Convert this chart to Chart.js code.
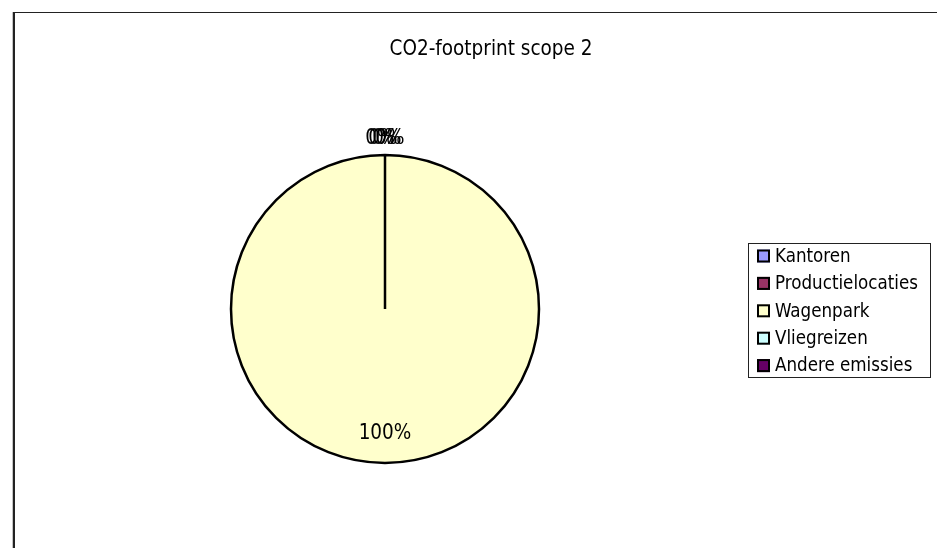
<!DOCTYPE html>
<html>
<head>
<meta charset="utf-8">
<script src="https://cdn.jsdelivr.net/npm/chart.js@4/dist/chart.umd.min.js"></script>
<style>
  html, body { margin: 0; padding: 0; background: #fff; }
  #wrap { position: relative; width: 937px; height: 548px; overflow: hidden; }
  /* chart frame: only top and left edges fall inside the window */
  #frame {
    position: absolute; left: 13px; top: 12px; width: 1000px; height: 600px;
    border-top: 1px solid #222; border-left: 2px solid #222;
    box-shadow: -1px 0 0 #c4c4c4;
  }
  canvas { position: absolute; left: 0; top: 0; }
</style>
</head>
<body>
<div id="wrap">
  <div id="frame"></div>
  <canvas id="c" width="937" height="548"></canvas>
</div>
<script>
// data
const chartTitle = 'CO2-footprint scope 2';
const categories = ['Kantoren', 'Productielocaties', 'Wagenpark', 'Vliegreizen', 'Andere emissies'];
const values = [0, 0, 100, 0, 0];
const sliceColors = ['#9999ff', '#993366', '#ffffcc', '#ccffff', '#660066'];

const FONT = '"DejaVu Sans Condensed", "DejaVu Sans", sans-serif';

// small horizontal shifts for the stacked 0% labels (Excel draws them slightly apart)
const zeroShift = [-5, -2, 2, 5];

// percentage labels on / around the slices
const pieLabels = {
  id: 'pieLabels',
  afterDatasetsDraw(chart) {
    const ctx = chart.ctx;
    const meta = chart.getDatasetMeta(0);
    const total = values.reduce((a, b) => a + b, 0);
    let z = 0;
    ctx.save();
    ctx.font = '20.5px ' + FONT;
    ctx.fillStyle = '#000';
    ctx.textAlign = 'center';
    ctx.textBaseline = 'middle';
    meta.data.forEach((arc, i) => {
      const p = arc.getProps(['x', 'y', 'startAngle', 'endAngle', 'outerRadius'], true);
      const mid = (p.startAngle + p.endAngle) / 2;
      let r, dx = 0;
      if (values[i] > 0) {
        r = p.outerRadius * 0.81;
      } else {
        r = p.outerRadius + 16;
        dx = zeroShift[z++] || 0;
      }
      const txt = Math.round(values[i] / total * 100) + '%';
      ctx.fillText(txt, p.x + Math.cos(mid) * r + dx, p.y + Math.sin(mid) * r);
    });
    ctx.restore();
  }
};

// title + boxed legend in the Excel style
const excelDecor = {
  id: 'excelDecor',
  afterDraw(chart) {
    const ctx = chart.ctx;
    ctx.save();
    ctx.fillStyle = '#000';
    ctx.font = '20.5px ' + FONT;
    ctx.textAlign = 'center';
    ctx.textBaseline = 'middle';
    ctx.fillText(chartTitle, 491, 50);

    // legend box
    const bx = 748.5, by = 243.5, bw = 182, bh = 134;
    ctx.strokeStyle = '#222';
    ctx.lineWidth = 1;
    ctx.strokeRect(bx, by, bw, bh);

    ctx.font = '18.6px ' + FONT;
    ctx.textAlign = 'left';
    categories.forEach((name, i) => {
      const cy = 256 + i * 27.4;
      ctx.fillStyle = sliceColors[i];
      ctx.fillRect(757, cy - 6.5, 13, 13);
      ctx.strokeStyle = '#000';
      ctx.lineWidth = 2;
      ctx.strokeRect(758, cy - 5.5, 11, 11);
      ctx.fillStyle = '#000';
      ctx.fillText(name, 775, cy + 1);
    });
    ctx.restore();
  }
};

const ctx = document.getElementById('c').getContext('2d');
new Chart(ctx, {
  type: 'pie',
  data: {
    labels: categories,
    datasets: [{
      data: values,
      backgroundColor: sliceColors,
      borderColor: '#000',
      borderWidth: 2.5,
      clip: false,
    }],
  },
  options: {
    responsive: false,
    animation: false,
    radius: 154,
    layout: { padding: { left: 231, right: 398, top: 155, bottom: 85 } },
    plugins: {
      legend: { display: false },
      tooltip: { enabled: false },
      title: { display: false },
    },
  },
  plugins: [pieLabels, excelDecor],
});
</script>
</body>
</html>
